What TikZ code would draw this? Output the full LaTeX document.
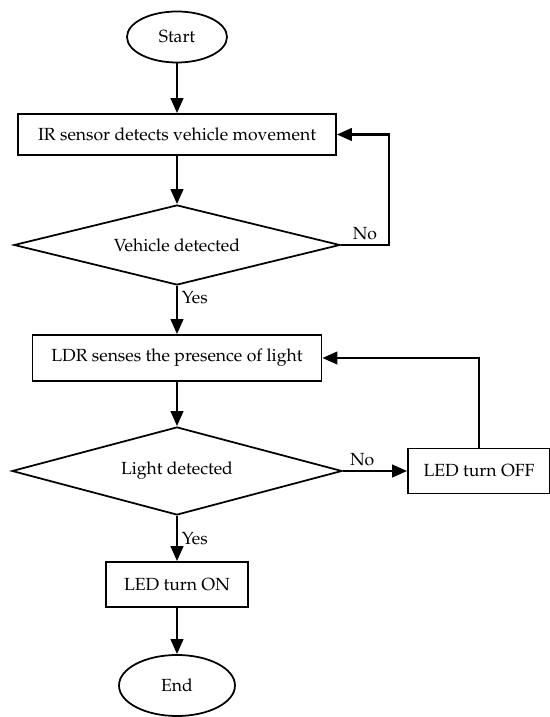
\documentclass[tikz,border=0pt]{standalone}
\usepackage[T1]{fontenc}
\usepackage{mathpazo}
\usepackage{tikz}
\usetikzlibrary{shapes,arrows,arrows.meta,positioning}

\begin{document}
\begin{tikzpicture}[
    terminal/.style={ellipse, draw=black, line width=1pt, inner sep=0pt},
    process/.style={rectangle, draw=black, line width=1pt, text centered, inner sep=0pt},
    decision/.style={diamond, draw=black, line width=1pt, inner sep=0pt, aspect=4},
    flow/.style={-{Triangle[length=0.3cm,width=0.25cm]}, line width=1.5pt},
    lbl/.style={inner sep=2pt, font=\normalsize}
]
\useasboundingbox (-3.54,0) rectangle (7.46,14.34);

% Main column
\node[terminal, minimum width=2cm, minimum height=1.02cm] (start) at (0, 13.6) {Start};
\node[process, minimum width=6.36cm, minimum height=0.82cm] (ir) at (0, 11.65) {IR sensor detects vehicle movement};
\node[decision, minimum width=6.52cm, minimum height=1.6cm] (vehicle) at (0, 9.44) {Vehicle detected};
\node[process, minimum width=5.78cm, minimum height=0.92cm] (ldr) at (0, 7.18) {LDR senses the presence of light};
\node[decision, minimum width=6.6cm, minimum height=1.76cm] (light) at (0, 4.92) {Light detected};
\node[process, minimum width=2.84cm, minimum height=0.9cm] (ledon) at (0, 2.65) {LED turn ON};
\node[terminal, minimum width=2.32cm, minimum height=1.22cm] (end) at (0, 0.63) {End};

% Side branch
\node[process, minimum width=2.84cm, minimum height=0.9cm] (ledoff) at (6.04, 4.92) {LED turn OFF};

% Arrows
\draw[flow] (start) -- (ir);
\draw[flow] (ir) -- (vehicle);
\draw[flow] (vehicle) -- node[lbl, right, pos=0.25] {Yes} (ldr);
\draw[flow] (vehicle.east) -- node[lbl, above] {No} ++(0.96,0) |- (ir.east);
\draw[flow] (ldr) -- (light);
\draw[flow] (light) -- node[lbl, right, pos=0.5] {Yes} (ledon);
\draw[flow] (light.east) -- node[lbl, above, pos=0.3] {No} (ledoff);
\draw[flow] (ledoff.north) |- (ldr.east);
\draw[flow] (ledon) -- (end);

\end{tikzpicture}
\end{document}
